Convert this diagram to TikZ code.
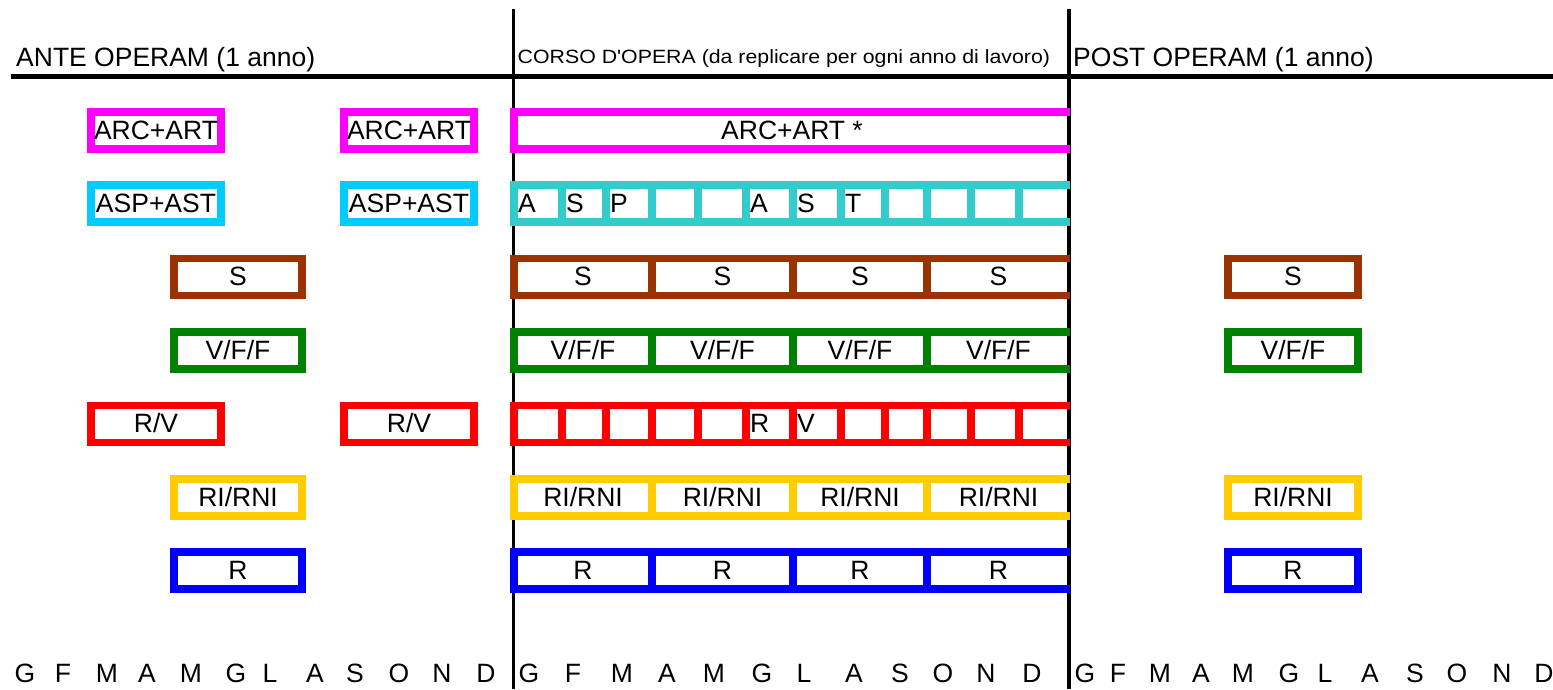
\documentclass[tikz,border=0pt]{standalone}
\usepackage{fontspec}
\setmainfont{Liberation Sans}
\newfontfamily\wideface[FakeStretch=1.11]{Liberation Sans}

\definecolor{cMag}{RGB}{255,0,255}
\definecolor{cSky}{RGB}{0,204,255}
\definecolor{cTeal}{RGB}{51,204,204}
\definecolor{cBrown}{RGB}{153,51,0}
\definecolor{cGreen}{RGB}{0,128,0}
\definecolor{cRed}{RGB}{255,0,0}
\definecolor{cGold}{RGB}{255,204,0}
\definecolor{cBlue}{RGB}{0,0,255}

% one open band of the working year: top, left and bottom edges plus dividers
\newcommand\yearband[3]{%
  \draw[band=#2] (1070,#1-18.5) -- (514,#1-18.5) -- (514,#1+18.5) -- (1070,#1+18.5);
  \foreach \cx in {#3} \draw[band=#2] (\cx,#1-18.5) -- (\cx,#1+18.5);
}

\begin{document}
\begin{tikzpicture}[x=1pt,y=-1pt,
  txt/.style={font=\fontsize{26.5}{30}\selectfont, inner sep=0pt},
  activity/.style={draw=#1, line width=7.8pt, minimum width=130pt, minimum height=37pt,
    inner sep=0pt, text height=17pt, text depth=0pt, font=\fontsize{26.5}{30}\selectfont},
  band/.style={draw=#1, line width=7.8pt, line join=miter},
  blackrule/.style={draw=black, line width=#1},
]
\useasboundingbox (0,0) rectangle (1553,689);

% frame: header rule and the two phase separators
\coordinate (ruleL) at (11,76.8);
\coordinate (ruleR) at (1553,76.8);
\coordinate (sepAtop) at (513.5,9);
\coordinate (sepAbot) at (513.5,689);
\coordinate (sepBtop) at (1069,9);
\coordinate (sepBbot) at (1069,689);
\draw[blackrule=5pt] (ruleL) -- (ruleR);
\draw[blackrule=3.5pt] (sepAtop) -- (sepAbot);
\draw[blackrule=3.5pt] (sepBtop) -- (sepBbot);

% phase headings
\node[txt, anchor=base west] (hAnte) at (16,66.7) {ANTE OPERAM (1 anno)};
\node[inner sep=0pt, anchor=base west, font=\wideface\fontsize{19.2}{23}\selectfont] (hCorso) at (517.5,63.5)
  {CORSO D'OPERA (da replicare per ogni anno di lavoro)};
\node[txt, anchor=base west] (hPost) at (1073,66.7) {POST OPERAM (1 anno)};

% ante operam
\node[activity=cMag] (aArc1) at (156,130.5) {ARC+ART};
\node[activity=cMag] (aArc2) at (409,130.5) {ARC+ART};
\node[activity=cSky] (aAsp1) at (156,203.5) {ASP+AST};
\node[activity=cSky] (aAsp2) at (409,203.5) {ASP+AST};
\node[activity=cBrown, minimum width=128pt] (aS) at (238,277) {S};
\node[activity=cGreen, minimum width=128pt] (aV) at (238,350.5) {V/F/F};
\node[activity=cRed] (aRV1) at (156,424) {R/V};
\node[activity=cRed] (aRV2) at (409,424) {R/V};
\node[activity=cGold, minimum width=128pt] (aRI) at (238,497.5) {RI/RNI};
\node[activity=cBlue, minimum width=128pt] (aR) at (238,570.5) {R};

% corso d'opera
\yearband{130.5}{cMag}{}
\yearband{203.5}{cTeal}{562,606,652,698,746,793,841,885,927,971,1019}
\yearband{277}{cBrown}{652,793,927}
\yearband{350.5}{cGreen}{652,793,927}
\yearband{424}{cRed}{562,606,652,698,746,793,841,885,927,971,1019}
\yearband{497.5}{cGold}{652,793,927}
\yearband{570.5}{cBlue}{652,793,927}

\node[txt, anchor=base] (cArc) at (792,139) {ARC+ART *};
\foreach \x/\l [count=\i] in {518/A,566/S,610/P,750/A,797/S,845/T}
  \node[txt, anchor=base west] (cAsp\i) at (\x,212) {\l};
\foreach \x [count=\i] in {583,722.5,860,998.5} {
  \node[txt, anchor=base] (cS\i) at (\x,285.5) {S};
  \node[txt, anchor=base] (cV\i) at (\x,359) {V/F/F};
  \node[txt, anchor=base] (cRI\i) at (\x,506) {RI/RNI};
  \node[txt, anchor=base] (cR\i) at (\x,579) {R};
}
\node[txt, anchor=base west] (cRV1) at (750,432.5) {R};
\node[txt, anchor=base west] (cRV2) at (797,432.5) {V};

% post operam
\node[activity=cBrown] (pS) at (1293,277) {S};
\node[activity=cGreen] (pV) at (1293,350.5) {V/F/F};
\node[activity=cGold] (pRI) at (1293,497.5) {RI/RNI};
\node[activity=cBlue] (pR) at (1293,570.5) {R};

% month initials
\foreach \x/\l [count=\i] in {25/G,63/F,107/M,147/A,191/M,236/G,270/L,315/A,355/S,399/O,442/N,486/D}
  \node[txt, anchor=base] (mA\i) at (\x,682) {\l};
\foreach \x/\l [count=\i] in {529/G,573/F,622/M,667/A,714/M,762/G,804/L,854/A,900/S,943/O,986/N,1032/D}
  \node[txt, anchor=base] (mC\i) at (\x,682) {\l};
\foreach \x/\l [count=\i] in {1085/G,1118/F,1160/M,1201/A,1243/M,1289/G,1325/L,1370/A,1415/S,1457/O,1502/N,1544/D}
  \node[txt, anchor=base] (mP\i) at (\x,682) {\l};
\end{tikzpicture}
\end{document}
